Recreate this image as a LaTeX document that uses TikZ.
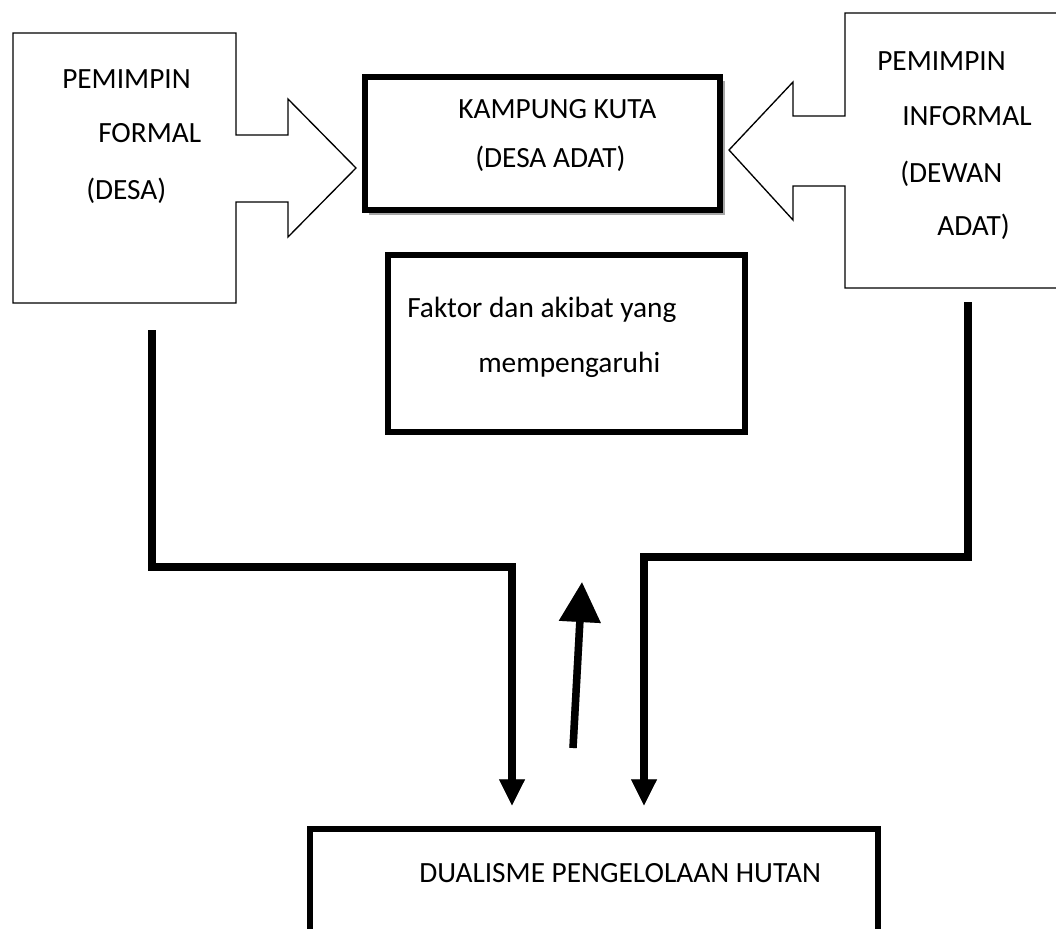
\documentclass[tikz,border=0pt]{standalone}
\usepackage{fontspec}
\setmainfont{Carlito}
\usetikzlibrary{arrows.meta, positioning}

\begin{document}
\begin{tikzpicture}[
        x=0.75pt, y=-0.75pt,
        outline/.style={draw, line width=1pt, fill=white},
        thickbox/.style={draw, line width=4.5pt, fill=white},
        shadowbox/.style={fill=black!35},
        txt/.style={anchor=base west, inner sep=0pt, font=\fontsize{22}{26}\selectfont},
        flow/.style={line width=5.6pt, -{Triangle[length=20pt, width=18pt]}},
        upflow/.style={line width=5.6pt, -{Triangle[length=30pt, width=30pt]}},
        shade/.style={draw=black!35, shift={(2,2.5)}}
    ]
    \useasboundingbox (0,0) rectangle (1056,928);

    % Left block with arrow
    \draw[outline] (13,33) -- (236,33) -- (236,135) -- (288,135) -- (288,99)
        -- (356,168) -- (288,237) -- (288,202) -- (236,202) -- (236,303)
        -- (13,303) -- cycle;
    \node[txt] (formal1) at (62,88) {PEMIMPIN};
    \node[txt] (formal2) at (98,142) {FORMAL};
    \node[txt] (formal3) at (86,199) {(DESA)};

    % Right block with arrow
    \draw[outline] (1060,13) -- (845,13) -- (845,116) -- (793,116) -- (793,82)
        -- (729,150) -- (793,220) -- (793,186) -- (845,186) -- (845,288)
        -- (1060,288);
    \node[txt] (informal1) at (877,70) {PEMIMPIN};
    \node[txt] (informal2) at (902,125) {INFORMAL};
    \node[txt] (informal3) at (900,182) {(DEWAN};
    \node[txt] (informal4) at (937,235) {ADAT)};

    % Village box
    \fill[shadowbox] (369,81) rectangle (725,215);
    \draw[thickbox] (365,77) rectangle (720,210);
    \node[txt] (kampung1) at (458,118) {KAMPUNG KUTA};
    \node[txt] (kampung2) at (475,167) {(DESA ADAT)};

    % Factor box
    \draw[thickbox] (388,255) rectangle (745,432);
    \node[txt] (faktor1) at (407,317) {Faktor dan akibat yang};
    \node[txt] (faktor2) at (478,372) {mempengaruhi};

    % Result box
    \draw[thickbox] (310,829) rectangle (878,940);
    \node[txt] (dualisme) at (419,882) {DUALISME PENGELOLAAN HUTAN};

    % Connectors
    \coordinate (formalfoot) at (152,330);
    \coordinate (formalturn) at (152,567);
    \coordinate (formaldrop) at (512,567);
    \coordinate (formalend) at (512,806);
    \coordinate (informalfoot) at (968,302);
    \coordinate (informalturn) at (968,557);
    \coordinate (informaldrop) at (644,557);
    \coordinate (informalend) at (644,806);
    \coordinate (upstart) at (573,748);
    \coordinate (uptip) at (582,582);

    \draw[flow, shade] (formalfoot) -- (formalturn) -- (formaldrop) -- (formalend);
    \draw[flow, shade] (informalfoot) -- (informalturn) -- (informaldrop) -- (informalend);
    \draw[upflow, shade] (upstart) -- (uptip);
    \draw[flow] (formalfoot) -- (formalturn) -- (formaldrop) -- (formalend);
    \draw[flow] (informalfoot) -- (informalturn) -- (informaldrop) -- (informalend);
    \draw[upflow] (upstart) -- (uptip);

\end{tikzpicture}
\end{document}
